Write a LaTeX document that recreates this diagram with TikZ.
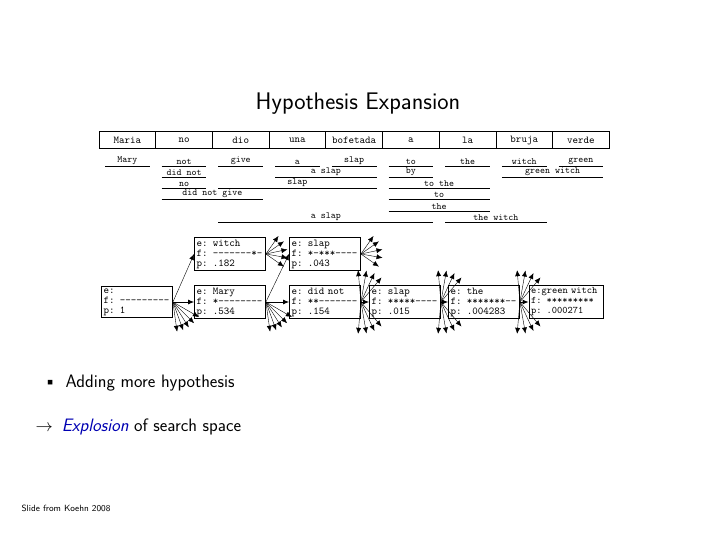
\documentclass[tikz,border=0pt]{standalone}
\usepackage{fontspec}
\usetikzlibrary{arrows.meta}
\tikzset{
  hyp/.style={draw, thick, fill=white, font=\ttfamily\fontsize{10.5}{10}\selectfont, align=left, text width=67pt, inner sep=2pt, minimum height=31pt},
  cell/.style={draw, thick, font=\ttfamily\fontsize{10.5}{12}\selectfont, minimum width=56.7pt, minimum height=17pt, inner sep=0pt},
  phr/.style={thick},
  fanarr/.style={-{Latex[length=6pt,width=5pt]}},
  link/.style={-{Latex[length=6pt,width=5pt]}, thick}
}
\newcommand{\spn}[4]{% row y, first col, last col, text
  \draw[phr] ({99+56.7*#2+6},#1) -- node[above=-2.5pt, font=\ttfamily\fontsize{9.5}{10}\selectfont] {#4} ({99+56.7*(#3+1)-6},#1);}
\newcommand{\fan}[3]{% start, length, angles
  \foreach \a in {#3} \draw[fanarr] (#1) -- ++({#2*cos(\a)},{#2*sin(\a)});}
\begin{document}
\begin{tikzpicture}[x=1pt,y=-1pt]
\useasboundingbox (0,0) rectangle (720,540);
\node[font=\sffamily\fontsize{24}{28}\selectfont] (title) at (358,104) {Hypothesis Expansion};

% input sentence
\foreach \w [count=\i from 0] in {Maria,no,dio,una,bofetada,a,la,bruja,verde}
  \node[cell] (c\i) at ({99+56.7*\i+28.35},140) {\w};

% translation options
\spn{166}{0}{0}{Mary} \spn{166}{1}{1}{not} \spn{166}{2}{2}{give} \spn{166}{3}{3}{a}
\spn{166}{4}{4}{slap} \spn{166}{5}{5}{to} \spn{166}{6}{6}{the} \spn{166}{7}{7}{witch} \spn{166}{8}{8}{green}
\spn{177}{1}{1}{did not} \spn{177}{3}{4}{a slap} \spn{177}{5}{5}{by} \spn{177}{7}{8}{green witch}
\spn{188}{1}{1}{no} \spn{188}{2}{4}{slap} \spn{188}{5}{6}{to the}
\spn{199}{1}{2}{did not give} \spn{199}{5}{6}{to}
\spn{211}{5}{6}{the}
\spn{222}{2}{5}{a slap} \spn{222}{6}{7}{the witch}

% hypotheses
\node[hyp] (h0) at (137,302) {e:\\f: ---------\\p: 1};
\node[hyp] (h1) at (230,302) {e: Mary\\f: *--------\\p: .534};
\node[hyp] (h2) at (230,254) {e: witch\\f: -------*-\\p: .182};
\node[hyp] (h3) at (325,254) {e: slap\\f: *-***----\\p: .043};
\node[hyp] (h4) at (325,302) {e: did not\\f: **-------\\p: .154};
\node[hyp] (h5) at (405,302) {e: slap\\f: *****----\\p: .015};
\node[hyp] (h6) at (484,302) {e: the\\f: *******--\\p: .004283};
\node[hyp, font=\ttfamily\fontsize{10}{10}\selectfont, text width=70pt] (h7) at (566,302) {e:green witch\\f: *********\\p: .000271};

\draw[link] (h0.east) -- (h1.west);
\draw[fanarr] (h0.east) -- (h2.west);
\draw[link] (h1.east) -- (h4.west);
\draw[fanarr] (h1.east) -- (h3.west);
\draw[link] (h4.east) -- (h5.west);
\draw[link] (h5.east) -- (h6.west);
\draw[link] (h6.east) -- (h7.west);

% further expansions
\fan{h0.east}{30}{30,45,58,70,82}
\fan{h1.east}{30}{30,45,58,70,82}
\fan{h2.east}{22}{-55,-35,-12,10,35}
\fan{h3.east}{22}{-55,-35,-12,10,35}
\foreach \n in {h4,h5,h6} {
  \fan{\n.east}{32}{-95,-80,-65,-50}
  \fan{\n.east}{32}{50,65,80,95}
}

\node[font=\sffamily\fontsize{18}{22}\selectfont, anchor=west] (b1) at (40,383) {\textbullet\enspace Adding more hypothesis};
\node[font=\sffamily\fontsize{18}{22}\selectfont, anchor=west] (b2) at (32,427) {$\rightarrow$\enspace \textcolor{blue!70!black}{\itshape Explosion} of search space};
\node[font=\sffamily\small, anchor=west] (src) at (18,508) {Slide from Koehn 2008};
\end{tikzpicture}
\end{document}
